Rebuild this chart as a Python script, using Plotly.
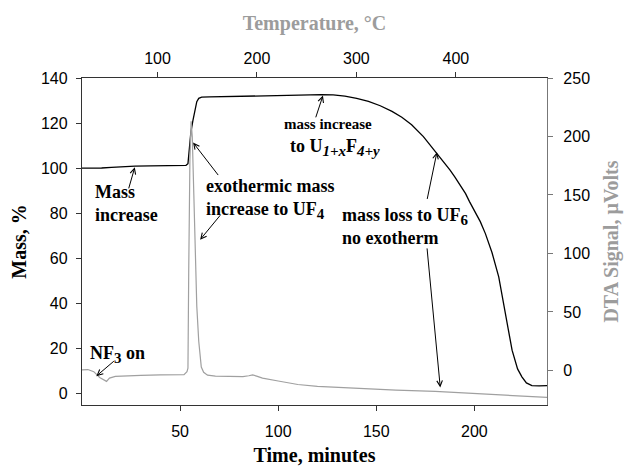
import plotly.graph_objects as go

# Thermogravimetric mass trace (time in minutes, mass in %)
time_mass = [0, 5, 10, 15, 20, 27, 35, 45, 53, 54, 54.8, 55.5, 56.5, 57.5, 58.5, 59.5,
             61, 65, 75, 85, 95, 105, 115, 122, 128, 134, 140, 146, 152, 158, 163, 168,
             174, 179, 182, 185, 187.5, 190, 192.5, 195.5, 197.5, 200, 203, 205.6, 209,
             212.4, 214.5, 216.5, 219.2, 222, 224.2, 226.5, 229.3, 233, 237]
mass_pct = [100.0, 100.0, 100.1, 100.4, 100.7, 100.9, 101.0, 101.1, 101.3, 102, 110, 116,
            121, 126, 129.5, 131.0, 131.5, 131.6, 131.8, 131.9, 132.0, 132.2, 132.4, 132.6,
            132.5, 132.0, 131.0, 129.6, 127.7, 125.2, 122.6, 119.3, 114.0, 108.6, 105.6,
            102.3, 99.3, 96.2, 92.8, 88.7, 85.2, 81.0, 76.3, 71.0, 62.5, 51.8, 42, 31,
            19.3, 11, 7.5, 4.8, 3.6, 3.5, 3.6]

# DTA signal (time in minutes, signal in microvolts)
time_dta = [0, 3, 6, 9, 12.5, 14, 17, 22, 30, 40, 48, 52, 53.5, 54.0, 54.4, 55.0, 55.6,
            56.2, 57.0, 57.7, 58.5, 59.5, 60.8, 62, 64, 68, 75, 82, 85, 87, 89, 92, 100,
            110, 120, 140, 160, 180, 200, 220, 237]
dta_uv = [0.5, 0.8, -1, -6, -9.3, -6.5, -5, -4.5, -4.2, -3.8, -3.9, -3.5, -1, 2, 86, 180,
          213, 200, 150, 95, 55, 25, 3, -1.5, -4, -4.8, -5, -5.2, -4.5, -3.8, -4.8, -6.5,
          -9, -12, -13.6, -15.3, -16.8, -17.8, -19.5, -21.5, -23]

# Axis ranges and ticks
time_range = [0, 237]
temp_range = [24.1, 491.6]
mass_range = [-5, 140]
dta_range = [-29.5, 250]
time_ticks = [50, 100, 150, 200]
temp_ticks = [100, 200, 300, 400]
mass_ticks = [0, 20, 40, 60, 80, 100, 120, 140]
dta_ticks = [0, 50, 100, 150, 200, 250]

SERIF = "Liberation Serif, Times New Roman, serif"
SANS = "Liberation Sans, Arial, sans-serif"
GRAY = "#9c9c9c"


def sub(s, size=15, italic=False):
    """Subscript kept close to the body text size."""
    inner = f"<i>{s}</i>" if italic else s
    return f"<sub><span style='font-size:{size}px'>{inner}</span></sub>"


fig = go.Figure()
fig.add_trace(go.Scatter(x=time_dta, y=dta_uv, mode="lines", xaxis="x", yaxis="y2",
                         line=dict(color="#a0a0a0", width=1.2), showlegend=False))
fig.add_trace(go.Scatter(x=time_mass, y=mass_pct, mode="lines", xaxis="x", yaxis="y",
                         line=dict(color="black", width=1.3), showlegend=False))
# carrier trace so the temperature axis is laid out
fig.add_trace(go.Scatter(x=[temp_range[0]], y=[mass_range[0]], mode="markers", xaxis="x2",
                         yaxis="y", marker=dict(opacity=0), showlegend=False, hoverinfo="skip"))

axis_common = dict(showgrid=False, zeroline=False, showline=True, ticks="outside",
                   ticklen=5, tickwidth=1.2, linewidth=1.3, automargin=False,
                   tickfont=dict(family=SANS, size=16, color="black"))

fig.update_layout(
    width=625, height=466,
    margin=dict(l=82, r=78, t=78, b=61),
    paper_bgcolor="white", plot_bgcolor="white",
    xaxis=dict(range=time_range, tickvals=time_ticks, linecolor="#333",
               tickcolor="#333", ticklabelstandoff=7,
               title=dict(text="<b>Time, minutes</b>", standoff=8,
                          font=dict(family=SERIF, size=20, color="black")),
               **axis_common),
    xaxis2=dict(range=temp_range, tickvals=temp_ticks, overlaying="x", side="top",
                linecolor="#333", tickcolor="#333", ticklabelstandoff=1,
                title=dict(text="<b>Temperature, °C</b>", standoff=14,
                           font=dict(family=SERIF, size=20, color=GRAY)),
                **axis_common),
    yaxis=dict(range=mass_range, tickvals=mass_ticks, linecolor="#333", tickcolor="#333",
               ticklabelstandoff=5,
               title=dict(text="<b>Mass, %</b>", standoff=8,
                          font=dict(family=SERIF, size=20, color="black")),
               **axis_common),
    yaxis2=dict(range=dta_range, tickvals=dta_ticks, overlaying="y", side="right",
                linecolor="#777", tickcolor="#777", ticklabelstandoff=7,
                title=dict(text="<b>DTA Signal, µVolts</b>", standoff=14,
                           font=dict(family=SERIF, size=20, color=GRAY)),
                **axis_common),
)

# Text labels (time, mass coordinates)
labels = [
    ("<b>Mass<br>increase</b>", 5.6, 84.4),
    (f"<b>exothermic mass<br>increase to UF{sub('4')}</b>", 62.2, 86.5),
    (f"<b>to U{sub('1+x', italic=True)}F{sub('4+y', italic=True)}</b>", 105, 109.3),
    (f"<b>mass loss to UF{sub('6')}<br>no exotherm</b>", 131.6, 74),
    (f"<b>NF{sub('3')} on</b>", 3, 17.5),
]
for text, lx, ly in labels:
    fig.add_annotation(text=text, x=lx, y=ly, xref="x", yref="y", xanchor="left",
                       yanchor="middle", align="left", showarrow=False,
                       font=dict(family=SERIF, size=18, color="black"))
fig.add_annotation(text="<b>mass increase</b>", x=125.2, y=119.6, xref="x", yref="y",
                   xanchor="center", yanchor="middle", showarrow=False,
                   font=dict(family=SERIF, size=15, color="black"))

# Arrows: (tail time, tail mass, tip time, tip mass)
arrows = [
    (23.6, 90.4, 26.9, 100.4),
    (70.0, 96.3, 56.6, 111.4),
    (71.1, 79.8, 60.2, 68.3),
    (118.9, 121.9, 122.8, 132.2),
    (175.8, 85.7, 180.9, 107.1),
    (175.8, 65.1, 182.6, 2.8),
    (17.0, 15.0, 7.3, 7.8),
]
for tx, ty, hx, hy in arrows:
    fig.add_annotation(text="", x=hx, y=hy, ax=tx, ay=ty, xref="x", yref="y",
                       axref="x", ayref="y", showarrow=True, arrowhead=5,
                       arrowsize=1.1, arrowwidth=1, arrowcolor="black")

fig.write_html("out.html")
